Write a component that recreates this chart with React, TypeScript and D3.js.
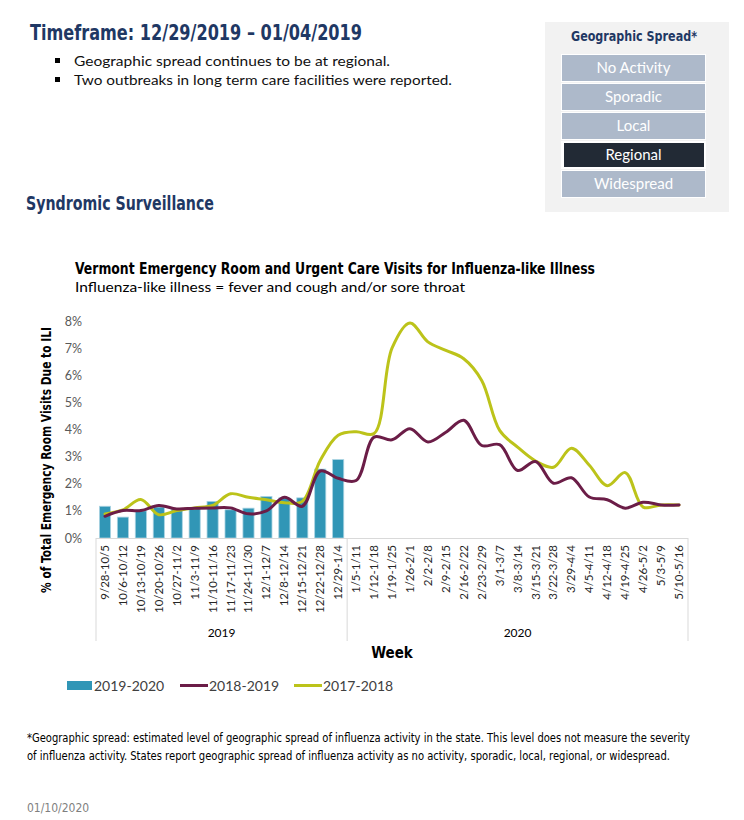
import React from "react";
import * as d3 from "d3";

const weeks2019 = ["9/28-10/5","10/6-10/12","10/13-10/19","10/20-10/26","10/27-11/2","11/3-11/9","11/10-11/16","11/17-11/23","11/24-11/30","12/1-12/7","12/8-12/14","12/15-12/21","12/22-12/28","12/29-1/4"];
const weeks2020 = ["1/5-1/11","1/12-1/18","1/19-1/25","1/26-2/1","2/2-2/8","2/9-2/15","2/16-2/22","2/23-2/29","3/1-3/7","3/8-3/14","3/15-3/21","3/22-3/28","3/29-4/4","4/5-4/11","4/12-4/18","4/19-4/25","4/26-5/2","5/3-5/9","5/10-5/16"];
const weeks = [...weeks2019, ...weeks2020];

const season2019_2020 = [1.17,0.77,1.0,1.14,1.07,1.1,1.35,1.04,1.1,1.53,1.48,1.48,2.54,2.89];
const season2018_2019 = [0.80,1.01,1.01,1.2,1.07,1.1,1.11,1.11,0.89,1.0,1.5,1.17,2.47,2.2,2.12,3.72,3.62,4.03,3.54,3.9,4.34,3.41,3.44,2.49,2.82,2.02,2.22,1.51,1.41,1.10,1.32,1.22,1.22];
const season2017_2018 = [0.89,1.04,1.42,0.86,1.01,1.11,1.2,1.63,1.5,1.41,1.3,1.35,2.86,3.79,3.92,3.85,7.0,7.93,7.23,6.92,6.61,5.81,3.97,3.35,2.84,2.61,3.31,2.68,1.93,2.41,1.14,1.22,1.22];
const yTicks = [0,1,2,3,4,5,6,7,8];
const spreadLevels = ["No Activity","Sporadic","Local","Regional","Widespread"];
const currentLevel = "Regional";
const legendItems = [
  { label: "2019-2020", type: "bar" },
  { label: "2018-2019", type: "line" },
  { label: "2017-2018", type: "line" },
];

const NAVY = "#1F3864";
const TEAL = "#3196B6";
const PURPLE = "#6B1D47";
const YELLOW = "#BCC31A";
const NARROW = "'Liberation Sans Narrow','Arial Narrow','DejaVu Sans Condensed',sans-serif";
const BODY = "Lato,'Noto Sans',sans-serif";

export default function App() {
  const x = d3.scaleBand<string>().domain(weeks).range([96, 688]).paddingInner(0.38).paddingOuter(0.19);
  const xc = (i: number) => (x(weeks[i]) as number) + x.bandwidth() / 2;
  const y = d3.scaleLinear().domain([0, 8]).range([538, 321]);

  const line = d3.line<number>().x((_, i) => xc(i)).y((d) => y(d)).curve(d3.curveCatmullRom.alpha(0.5));

  const divider = 96 + (x.step() * weeks2019.length);
  const legendColors = [TEAL, PURPLE, YELLOW];
  const legendX = [67, 180, 294];

  return (
    <svg width={744} height={820} style={{ position: "absolute", left: 0, top: 0, background: "#fff" }}>
      {/* header */}
      <text x={30} y={40} fontFamily={NARROW} fontWeight="bold" fontSize={21} fill={NAVY} textLength={332} lengthAdjust="spacingAndGlyphs">Timeframe: 12/29/2019 – 01/04/2019</text>
      <rect x={55} y={58} width={5} height={5} fill="#000" />
      <text x={74} y={66} fontFamily={BODY} fontSize={14} fill="#111" textLength={316} lengthAdjust="spacingAndGlyphs">Geographic spread continues to be at regional.</text>
      <rect x={55} y={77} width={5} height={5} fill="#000" />
      <text x={74} y={85} fontFamily={BODY} fontSize={14} fill="#111" textLength={378} lengthAdjust="spacingAndGlyphs">Two outbreaks in long term care facilities were reported.</text>
      <text x={26} y={210} fontFamily={NARROW} fontWeight="bold" fontSize={19} fill={NAVY} textLength={188} lengthAdjust="spacingAndGlyphs">Syndromic Surveillance</text>

      {/* geographic spread box */}
      <rect x={545} y={22} width={184} height={190} fill="#F2F2F2" />
      <text x={634} y={41} textAnchor="middle" fontFamily={NARROW} fontWeight="bold" fontSize={14} fill={NAVY} textLength={126} lengthAdjust="spacingAndGlyphs">Geographic Spread*</text>
      {spreadLevels.map((lv, i) => {
        const top = 54 + i * 29;
        const active = lv === currentLevel;
        return (
          <g key={lv}>
            <rect x={561} y={top} width={145} height={28} fill="#fff" />
            <rect x={active ? 564 : 562} y={top + (active ? 2 : 1)} width={active ? 140 : 143} height={active ? 24 : 26} fill={active ? "#222A35" : "#ADB9CA"} />
            <text x={633.5} y={top + 19} textAnchor="middle" fontFamily={BODY} fontSize={15} fill="#fff">{lv}</text>
          </g>
        );
      })}

      {/* chart titles */}
      <text x={75} y={274} fontFamily={NARROW} fontWeight="bold" fontSize={16} fill="#000" textLength={520} lengthAdjust="spacingAndGlyphs">Vermont Emergency Room and Urgent Care Visits for Influenza-like Illness</text>
      <text x={75} y={292} fontFamily={BODY} fontSize={14} fill="#000" textLength={390} lengthAdjust="spacingAndGlyphs">Influenza-like illness = fever and cough and/or sore throat</text>

      {/* y axis */}
      {yTicks.map((t) => (
        <text key={t} x={82} y={y(t) + 4.5} textAnchor="end" fontFamily={BODY} fontSize={12.5} fill="#595959">{t}%</text>
      ))}
      <text transform={`translate(51,460) rotate(-90)`} textAnchor="middle" fontFamily={NARROW} fontWeight="bold" fontSize={14} fill="#000" textLength={266} lengthAdjust="spacingAndGlyphs">% of Total Emergency Room Visits Due to ILI</text>

      {/* bars */}
      {season2019_2020.map((v, i) => (
        <rect key={i} x={x(weeks[i])} y={y(v)} width={x.bandwidth()} height={y(0) - y(v)} fill={TEAL} stroke="#A9D3E2" strokeWidth={0.8} />
      ))}

      {/* lines */}
      <path d={line(season2017_2018) || ""} fill="none" stroke={YELLOW} strokeWidth={3} strokeLinejoin="round" strokeLinecap="round" />
      <path d={line(season2018_2019) || ""} fill="none" stroke={PURPLE} strokeWidth={3} strokeLinejoin="round" strokeLinecap="round" />

      {/* x axis */}
      <line x1={96} x2={688} y1={538.5} y2={538.5} stroke="#D9D9D9" strokeWidth={1} />
      {[96, divider, 688].map((xv, i) => (
        <line key={i} x1={xv} x2={xv} y1={538} y2={641} stroke="#D9D9D9" strokeWidth={1} />
      ))}
      {weeks.map((w, i) => (
        <text key={w} transform={`translate(${xc(i) + 4},545) rotate(-90)`} textAnchor="end" fontFamily={BODY} fontSize={11.5} fill="#262626">{w}</text>
      ))}
      <text x={(96 + divider) / 2} y={637} textAnchor="middle" fontFamily={BODY} fontSize={12} fill="#000">2019</text>
      <text x={(divider + 688) / 2} y={637} textAnchor="middle" fontFamily={BODY} fontSize={12} fill="#000">2020</text>
      <text x={392} y={658} textAnchor="middle" fontFamily={NARROW} fontWeight="bold" fontSize={15} fill="#000">Week</text>

      {/* legend */}
      {legendItems.map((it, i) => (
        <g key={it.label}>
          {it.type === "bar" ? (
            <rect x={legendX[i]} y={681} width={25} height={9} fill={legendColors[i]} />
          ) : (
            <line x1={legendX[i]} x2={legendX[i] + 28} y1={685.5} y2={685.5} stroke={legendColors[i]} strokeWidth={3} />
          )}
          <text x={legendX[i] + (it.type === "bar" ? 27 : 29)} y={690.5} fontFamily={BODY} fontSize={14} fill="#404040">{it.label}</text>
        </g>
      ))}

      {/* footnote */}
      <text x={27} y={742} fontFamily={NARROW} fontSize={12} fill="#000" textLength={663} lengthAdjust="spacingAndGlyphs">*Geographic spread: estimated level of geographic spread of influenza activity in the state. This level does not measure the severity</text>
      <text x={27} y={760} fontFamily={NARROW} fontSize={12} fill="#000" textLength={643} lengthAdjust="spacingAndGlyphs">of influenza activity.  States report geographic spread of influenza activity as no activity, sporadic, local, regional, or widespread.</text>
      <text x={27} y={812} fontFamily={NARROW} fontSize={12} fill="#7F7F7F">01/10/2020</text>
    </svg>
  );
}
